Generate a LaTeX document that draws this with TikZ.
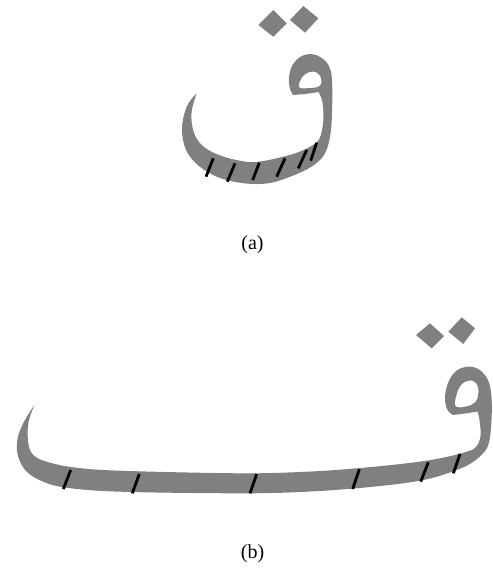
\documentclass[tikz,border=0pt]{standalone}
\usepackage{fontspec}
\setmainfont{Liberation Serif}
\definecolor{qgray}{HTML}{808080}
\begin{document}
\begin{tikzpicture}[x=1pt,y=-1pt,
  glyphfill/.style={fill=qgray, even odd rule},
  dotfill/.style={fill=qgray},
  hashmark/.style={draw=black, line width=2.8pt},
  caption/.style={font=\fontsize{20}{24}\selectfont, inner sep=0pt}]
\useasboundingbox (0,0) rectangle (492,572);

% ---------- (a) ----------
\fill[glyphfill]
  plot[smooth, tension=0.6] coordinates {(196.7,93.3) (187,106) (182,128) (186,150) (199,166) (220,178) (246,183.5) (270,183) (292,176) (311,167) (324,155) (330,137) (332,113) (332,80) (329,66) (321,57.5) (311,54) (300,57) (292,66) (289,78) (290,89) (293,95)}
  -- plot[smooth, tension=0.6] coordinates {(293,95) (305,94) (318.5,92)}
  -- plot[smooth, tension=0.6] coordinates {(318.5,92) (322,100) (323.5,115) (322,130) (317,142) (300,151.5) (280,157.5) (260,161.5) (246,161.7) (223,156.5) (204,147) (194,133) (191.5,113) (196.7,93.3)}
  -- cycle
  plot[smooth cycle, tension=0.7] coordinates {(299.5,87.5) (300.5,80) (305.5,74) (313,71.5) (319,74.5) (321.5,81) (319,86.5) (310,88)};
\fill[dotfill] (273.3,10) -- (258.3,25) -- (273.3,36.7) -- (286.7,23.3) -- cycle;
\fill[dotfill] (303.3,6) -- (290,20) -- (305,32.7) -- (318.3,18.3) -- cycle;
\draw[hashmark] (213.3,158.3) -- (206,176.7);
\draw[hashmark] (235,163.3) -- (227.3,181.7);
\draw[hashmark] (259.3,162.7) -- (252.7,180);
\draw[hashmark] (285,158.3) -- (276.7,176.7);
\draw[hashmark] (306.7,150) -- (298.3,168.3);
\draw[hashmark] (316.7,142.7) -- (310.7,160.7);
\node[caption] (capa) at (252.5,245) {(a)};

% ---------- (b) ----------
\fill[glyphfill]
  plot[smooth, tension=0.6] coordinates {(34.3,405) (23.3,423) (17.3,440) (18.3,457) (26.7,471.7) (43.3,481.7) (66.7,487.7) (120,491.7) (240,493.3) (306.7,491.7) (373.3,486.7) (423.3,480) (456.7,470) (473.3,461.7) (485,451) (489.5,440) (491.5,420) (491.5,397) (488,380) (479,369.5) (468,366.7) (456,371) (448,383) (445,398) (447.5,410) (453,415)}
  -- plot[smooth, tension=0.6] coordinates {(453,415) (465,413.5) (477.5,411.5)}
  -- plot[smooth, tension=0.6] coordinates {(477.5,411.5) (479.5,420) (480.5,436) (476,447) (466.7,451.7) (440,458.3) (406.7,463.3) (356.7,468.3) (306.7,471.7) (240,473.3) (120,470.7) (73.3,467.3) (46.7,461.7) (33.3,455) (28.3,443.3) (28.3,423.3) (34.3,405)}
  -- cycle
  plot[smooth cycle, tension=0.7] coordinates {(455.5,406) (456.5,395) (461,385) (469,380.5) (476,383) (478.5,392) (475.5,402) (466,406.5)};
\fill[dotfill] (430,323.3) -- (416,335) -- (431.7,348.3) -- (444,336) -- cycle;
\fill[dotfill] (461.7,317.3) -- (448.3,331.7) -- (463.3,344) -- (475,328.3) -- cycle;
\draw[hashmark] (70.7,470) -- (63.3,489);
\draw[hashmark] (139.3,474) -- (132.3,493.3);
\draw[hashmark] (256.7,474) -- (250,493.3);
\draw[hashmark] (359.3,469.3) -- (352.7,489);
\draw[hashmark] (428.3,462.3) -- (420.7,481.7);
\draw[hashmark] (460,454) -- (453.3,473.3);
\node[caption] (capb) at (252.5,554) {(b)};
\end{tikzpicture}
\end{document}
